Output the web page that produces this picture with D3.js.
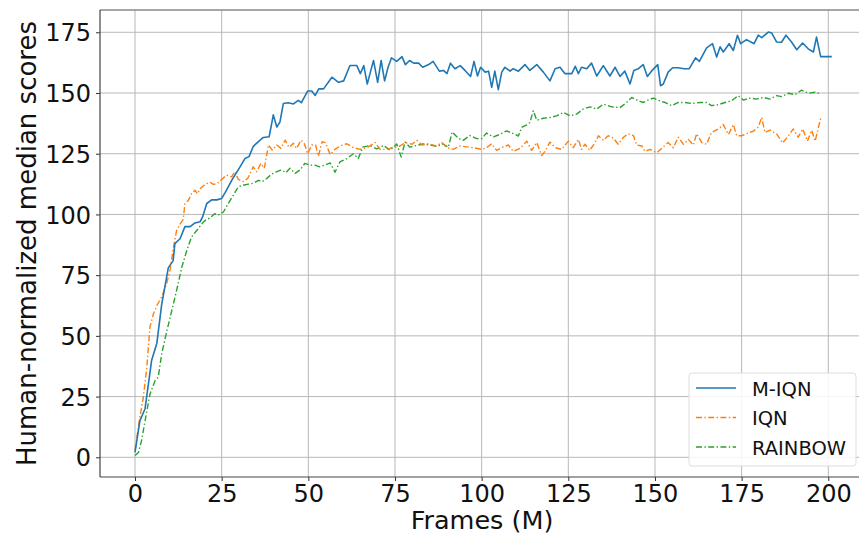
<!DOCTYPE html>
<html>
<head>
<meta charset="utf-8">
<script src="https://cdn.jsdelivr.net/npm/d3@7"></script>
<style>
  html, body { margin: 0; padding: 0; background: #fff; }
  svg { display: block; font-family: "DejaVu Sans", sans-serif; }
</style>
</head>
<body>
<svg id="chart" width="859" height="534"></svg>
<script>
// ---- data ----
const xTicks = [0, 25, 50, 75, 100, 125, 150, 175, 200];
const yTicks = [0, 25, 50, 75, 100, 125, 150, 175];
const seriesNames = ["M-IQN", "IQN", "RAINBOW"];

const miqnFrames = [0,1.4,2.9,4.8,6.3,7.7,9.6,11,11.5,13,14.4,15.9,17.3,18.8,19.5,20.7,22.1,23.6,25,26,27.9,30.3,31.7,32.9,34.1,35.6,37,38.7,39.9,40.9,41.8,42.8,44.2,45.7,47.1,48,49.8,51,52,53,54.4,56.8,58.7,60.2,62,64,65,66,67,67.9,68.8,70,71,72,73,74,75.5,77,78,79.2,80.4,81.8,83,84.7,86,87.8,89,90,91,92.3,93.8,95.2,96.8,97.8,98.8,99.7,101,102,102.9,103.8,104.8,105.8,106.7,108.2,109.1,110.6,112.5,113.9,115.9,117.8,119.7,121.2,122.6,124,126,127,127.9,128.8,130.3,131.7,133.2,135.1,137,138.5,139.9,141.3,142.8,143.9,145.2,146.6,147.8,149,150.8,151.6,152.4,153.8,155.1,156.7,158.4,159.9,161.7,162.8,164.9,166.6,167.8,168.8,169.7,171.4,172.6,173.8,174.7,176.4,178.6,179.8,180.8,182.7,183.7,185.1,186.5,187.8,189.4,190.9,192.6,194.2,195.7,196.6,197.8,201];
const miqnScores = [2,15,20,40,47,63,78,81,88,90,95,95,96.5,97,99,104.5,106,106,106.6,109,114,119.6,123,123.8,128,130,131.7,132,141,136,138,145.7,146,145.5,147,146,150.8,150.8,149,151.7,151.7,156.5,154.4,155,161.3,161.3,158,161.3,153.7,158.6,163.4,154.4,163.4,155,160.6,164.5,163,165,161.7,163.4,162.3,162.3,160.6,161.7,163,159,159.3,158,162.3,160,161.3,159.3,156.8,163,157,160.6,158.6,159,152.3,159,151.4,158.6,160.6,159,160,159,161.7,159.3,161.7,158.6,155,160,160.6,158,158,161,158,160.6,160,162.3,157,161.3,157,160.6,156.8,159,153.7,159.3,160,161.7,156.8,159,161.7,153,153.7,158.6,160.4,160.4,160,160,164.5,163,168.6,170.3,164.8,169,166.9,170.3,167.5,173.8,170.3,172,170.3,173.8,172.8,175.1,174.7,171,170.9,173.8,171,167.8,170.6,168.2,166.9,173,165,165];

const iqnFrames = [0,1.4,2.4,3.4,4.3,5.3,6.3,7.7,9.1,10.1,11.1,12,13,13.9,14.4,15.4,16.3,17.3,18,18.8,20.2,21.6,22.6,23.6,25,26.4,27.9,28.8,29.8,31.2,32.5,34.1,35.1,36.3,37.3,38.5,39.6,40.9,42.1,43.3,44.4,45.7,46.6,47.9,48.8,49.8,51,52.1,52.9,54,54.9,56.3,57.7,59.2,61.1,63,65,66.9,69.3,70.7,72.7,74.1,76,78,79.9,81.3,82.8,84.7,87,88.5,90,91.8,93.8,95.7,97.6,100,101.4,102.9,104.3,105.8,107.7,109.1,111.1,113,114.4,115.9,117.3,118.3,119.7,121.2,123.1,125,126.4,127.9,128.8,129.8,131.2,132.7,133.7,135.1,136.5,138,139.4,140.9,142.3,143.8,144.7,146.2,147.1,148.6,150.5,152.4,153.8,155.3,156.7,158.2,159.6,161.1,162,163.5,164.9,166.3,168.3,169.7,171.2,172.6,173.6,175,176.4,178.4,179.8,180.8,181.7,183.2,185.1,186.8,188.5,189.9,191.3,192.6,194,195.2,196.2,197.8];
const iqnScores = [3,16.5,24.7,37,53.6,59,62.5,66,71.4,77,86.5,93.4,96,98,104.4,105.8,108.5,110,108.5,110.6,112.4,113.3,112.4,112.6,114.4,116.2,115.5,117.6,114.4,113.5,114.8,119.6,117.6,121,119,128.6,126.5,128.6,127.2,130.6,127.6,129.3,127.2,130.6,129.3,125,128.6,128.6,124,130,129.6,124.7,126.8,128.2,129.1,127.5,126.8,127.5,129.6,126.8,126.8,127.5,127.8,129.6,128.9,130.5,128.6,129.1,128.2,129.6,127.5,126.8,128.2,127.8,127.5,126.8,127.5,129.1,126.4,127.5,128.6,126,127.2,130.2,126.4,129.6,124.3,126,129.8,127.5,126.8,130.2,127.5,130.9,126.8,128.9,126.4,129.6,132.4,130.5,132.4,131.4,128.9,131.8,133.2,132.4,128.6,128.2,126,126.8,125.4,127.8,129.6,127.5,131.8,128.9,130.9,128.6,133.2,129.6,128.9,133.8,135.2,137,132.9,137,132.4,132.4,133.3,134.3,136,140,133.7,134.7,133.2,129.4,132.4,135.2,131.8,135.2,130.2,134.7,130.2,139.6];

const rainbowFrames = [0,1,1.9,2.9,4.3,5.8,6.7,7.7,9.1,10.6,12,13.5,14.9,16.3,17.8,19.2,20.2,21.6,23,24,25.5,26.9,28.4,29.8,31.2,32.7,34.1,35.6,36.7,38,39.4,40.9,42.3,43.5,44.7,46.2,47.6,49,50.5,51.9,53.3,54.8,56.3,57.7,59.1,61.1,63,64.4,65.7,67.8,69.7,71.7,73.6,75.5,76.8,77.9,79.3,81.2,83.1,85.1,87,88.9,90.4,91.5,93.3,94.7,96.6,98.5,100,101.4,103.4,105.3,107.2,109.1,110.6,111.5,113,113.9,114.9,115.9,117.8,119.7,121.6,123.6,125.5,127.4,129.3,131.3,133.2,135.1,137.5,139.9,141.8,143.3,145.2,146.6,148,149.5,151.4,152.9,154.8,156.7,158.7,160.6,163,164.9,166.3,168.3,170.2,172.1,174,175.5,177.4,179.3,181.3,183.2,185.1,186.5,188.5,190.4,192.3,194.2,196.2,197.8];
const rainbowScores = [0.7,2,7,15,26,31.6,33,42.6,51.5,60.4,68.7,78.3,85,90.7,93.4,96,97.5,98.6,100.3,99.7,101,104.5,108,111.4,112,112.5,112.8,114,113.5,114.8,116.6,117.6,118.3,117.2,119,116.9,118.3,121,120.3,120.3,119.6,120.3,121.2,117.4,121.6,123,125,123,127.7,128.4,127,128.4,126.4,129,123.6,129.8,127.7,128.4,129,128.6,128,129,127.7,134,131.3,130.5,132.5,131.2,131.2,133.5,131.9,133,134.4,133.3,132.3,135.8,136.9,137.8,142.7,138.8,139.6,139.9,140.6,142,140.6,141.3,143.4,144.3,143.4,145.4,144.3,144,146.1,148.2,146.8,146.1,147.1,147.9,146.8,146.1,144.8,146.1,146.1,145.7,146.1,146.1,144.8,145.2,146.1,146.8,148.9,147.1,147.9,147.5,148.2,147.5,148.9,148.5,149.9,149.3,151.2,149.9,150.3,149.6];

// ---- layout ----
const plotL = 100, plotT = 10, plotR = 866.6, plotB = 477;
const svg = d3.select("#chart");

const x = d3.scaleLinear().domain([-10.1, 211.05]).range([plotL, plotR]);
const y = d3.scaleLinear().domain([-8.11, 184.18]).range([plotB, plotT]);

const styles = [
  { color: "#1f77b4", dash: null, width: 1.6 },
  { color: "#ff7f0e", dash: "6,2.4,1.4,2.4", width: 1.4 },
  { color: "#2ca02c", dash: "6,2.4,1.4,2.4", width: 1.4 }
];

// grid
const grid = svg.append("g");
grid.selectAll("line.vx").data(xTicks).enter().append("line")
  .attr("x1", d => x(d)).attr("x2", d => x(d))
  .attr("y1", plotT).attr("y2", plotB)
  .attr("stroke", "#b8b8b8").attr("stroke-width", 1);
grid.selectAll("line.hy").data(yTicks).enter().append("line")
  .attr("x1", plotL).attr("x2", plotR)
  .attr("y1", d => y(d)).attr("y2", d => y(d))
  .attr("stroke", "#b8b8b8").attr("stroke-width", 1);

// axes
const xAxis = d3.axisBottom(x).tickValues(xTicks).tickSize(4).tickPadding(3);
const yAxis = d3.axisLeft(y).tickValues(yTicks).tickSize(4).tickPadding(5);

const gx = svg.append("g").attr("transform", `translate(0,${plotB})`).call(xAxis);
const gy = svg.append("g").attr("transform", `translate(${plotL},0)`).call(yAxis);
[gx, gy].forEach(g => {
  g.select(".domain").remove();
  g.selectAll(".tick line").attr("stroke", "#333");
  g.selectAll(".tick text").attr("fill", "#111")
    .style("font-family", "'DejaVu Sans', sans-serif").style("font-size", "24px");
});
gx.selectAll(".tick text").attr("dy", "0.76em");
gy.selectAll(".tick text").attr("dy", "0.36em");

// frame
svg.append("line").attr("x1", plotL).attr("x2", plotR).attr("y1", plotT).attr("y2", plotT)
  .attr("stroke", "#888").attr("stroke-width", 1.5);
svg.append("line").attr("x1", plotL).attr("x2", plotL).attr("y1", plotT).attr("y2", plotB)
  .attr("stroke", "#444").attr("stroke-width", 1.2);
svg.append("line").attr("x1", plotL).attr("x2", plotR).attr("y1", plotB).attr("y2", plotB)
  .attr("stroke", "#444").attr("stroke-width", 1.2);
svg.append("line").attr("x1", plotR).attr("x2", plotR).attr("y1", plotT).attr("y2", plotB)
  .attr("stroke", "#444").attr("stroke-width", 1.2);

// lines
const allSeries = [
  { name: seriesNames[0], xs: miqnFrames, ys: miqnScores },
  { name: seriesNames[1], xs: iqnFrames, ys: iqnScores },
  { name: seriesNames[2], xs: rainbowFrames, ys: rainbowScores }
];
const line = d3.line().x(d => x(d[0])).y(d => y(d[1]));
// draw rainbow, iqn, then miqn on top
[2, 1, 0].forEach(i => {
  const s = allSeries[i];
  const pts = s.xs.map((v, k) => [v, s.ys[k]]);
  const p = svg.append("path").datum(pts)
    .attr("d", line).attr("fill", "none")
    .attr("stroke", styles[i].color).attr("stroke-width", styles[i].width)
    .attr("stroke-linejoin", "round");
  if (styles[i].dash) p.attr("stroke-dasharray", styles[i].dash);
});

// axis labels
svg.append("text").attr("x", 482).attr("y", 528.5)
  .attr("text-anchor", "middle").attr("fill", "#111")
  .style("font-size", "25.5px").text("Frames (M)");
svg.append("text")
  .attr("transform", `translate(36,${(plotT + plotB) / 2}) rotate(-90)`)
  .attr("text-anchor", "middle").attr("fill", "#111")
  .style("font-size", "26px").text("Human-normalized median scores");

// legend
const lg = svg.append("g");
lg.append("rect").attr("x", 689).attr("y", 373).attr("width", 167).attr("height", 93)
  .attr("rx", 3).attr("fill", "#fff").attr("fill-opacity", 0.85)
  .attr("stroke", "#ddd").attr("stroke-width", 1);
seriesNames.forEach((n, i) => {
  const ly = 388 + i * 29.5;
  const l = lg.append("line").attr("x1", 696).attr("x2", 736).attr("y1", ly).attr("y2", ly)
    .attr("stroke", styles[i].color).attr("stroke-width", styles[i].width);
  if (styles[i].dash) l.attr("stroke-dasharray", styles[i].dash);
  lg.append("text").attr("x", 752).attr("y", ly + 7.5).attr("fill", "#111")
    .style("font-size", "19.5px").text(n);
});
</script>
</body>
</html>
